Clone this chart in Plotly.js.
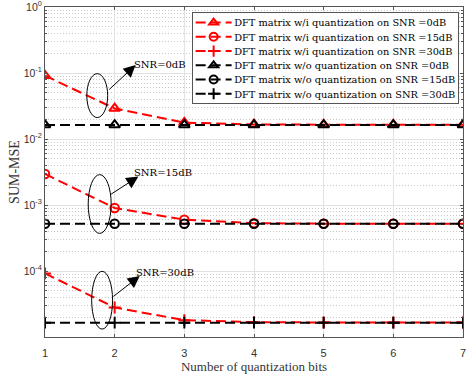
<!DOCTYPE html>
<html><head><meta charset="utf-8">
<script src="https://cdn.plot.ly/plotly-3.0.1.min.js"></script>
<style>html,body{margin:0;padding:0;background:#fff;overflow:hidden}
#wrap{width:472px;height:378px;overflow:hidden}
#chart{width:944px;height:756px;transform:scale(0.5);transform-origin:0 0}</style>
</head><body><div id="wrap"><div id="chart"></div></div>
<script>
const bits = [1,2,3,4,5,6,7];
const wiSNR0  = [0.091, 0.029, 0.0177, 0.0166, 0.0165, 0.0165, 0.0165];
const wiSNR15 = [0.00295, 0.00090, 0.000600, 0.000530, 0.000522, 0.000521, 0.000521];
const wiSNR30 = [9.2e-5, 2.8e-5, 1.8e-5, 1.68e-5, 1.66e-5, 1.66e-5, 1.66e-5];
const woSNR0  = [0.0163, 0.0163, 0.0163, 0.0163, 0.0163, 0.0163, 0.0163];
const woSNR15 = [0.000520, 0.000520, 0.000520, 0.000520, 0.000520, 0.000520, 0.000520];
const woSNR30 = [1.65e-5, 1.65e-5, 1.65e-5, 1.65e-5, 1.65e-5, 1.65e-5, 1.65e-5];
const names = [
 'DFT matrix w/i quantization on SNR =0dB',
 'DFT matrix w/i quantization on SNR =15dB',
 'DFT matrix w/i quantization on SNR =30dB',
 'DFT matrix w/o quantization on SNR =0dB',
 'DFT matrix w/o quantization on SNR =15dB',
 'DFT matrix w/o quantization on SNR =30dB'
];
const yTickVals = [1e-4, 1e-3, 1e-2, 1e-1, 1];
const yTickText = ['10<sup>-4</sup>','10<sup>-3</sup>','10<sup>-2</sup>','10<sup>-1</sup>','10<sup>0</sup>'];

const K = 2; // render at 2x, displayed at 0.5 scale
const series = [wiSNR0, wiSNR15, wiSNR30, woSNR0, woSNR15, woSNR30];
const symbols = ['triangle-up-open','circle-open','cross-thin-open','triangle-up-open','circle-open','cross-thin-open'];
const msize = {'triangle-up-open':9.5, 'circle-open':8.5, 'cross-thin-open':8.5};
const colors = ['#ff0000','#ff0000','#ff0000','#000000','#000000','#000000'];
const traces = series.map((ys,i)=>({
  x: bits, y: ys, name: names[i], type:'scatter', mode:'lines+markers',
  line:{color:colors[i], width:2*K, dash:(10*K)+'px,'+(5*K)+'px'},
  marker:{symbol:symbols[i], size:msize[symbols[i]]*K, color:colors[i], line:{color:colors[i], width:2*K}}
}));
const serif = 'DejaVu Serif, serif';
const serif2 = 'Liberation Serif, Times New Roman, serif';
const sans = 'Liberation Sans, Arial, sans-serif';
function ell(x0,x1,y0,y1){return {type:'circle', xref:'x', yref:'paper', x0:x0, x1:x1, y0:y0, y1:y1, line:{color:'#000', width:1*K}};}
function arrow(x,y,ax,ay){return {xref:'x', yref:'paper', x:x, y:y, ax:ax*K, ay:ay*K, text:'', showarrow:true, arrowhead:2, arrowsize:2.4, arrowwidth:1*K, arrowcolor:'#000'};}
function label(x,y,t){return {xref:'x', yref:'paper', x:x, y:y, text:t, showarrow:false, xanchor:'left', yanchor:'middle', font:{family:serif, size:10*K, color:'#000'}};}
const layout = {
  width:472*K, height:378*K,
  margin:{l:45*K, r:9*K, t:7*K, b:41*K},
  paper_bgcolor:'#fff', plot_bgcolor:'#fff',
  showlegend:true,
  legend:{x:0.352, y:0.985, xanchor:'left', yanchor:'top', bgcolor:'#fff', bordercolor:'#555', borderwidth:1*K,
    font:{family:serif, size:9.8*K, color:'#000'}, tracegroupgap:0, itemwidth:36*K},
  xaxis:{range:[1,7], tickvals:bits, ticks:'inside', ticklen:3*K, tickwidth:1*K, tickcolor:'#555', mirror:'ticks', showline:true, linecolor:'#555', linewidth:1*K,
    showgrid:true, gridcolor:'#e2e2e2', gridwidth:1*K, zeroline:false,
    ticklabelstandoff:6*K,
    tickfont:{family:sans, size:11*K, color:'#333'},
    title:{text:'Number of quantization bits', font:{family:serif2, size:13*K, color:'#333'}, standoff:2*K}},
  yaxis:{type:'log', range:[-5,0], tickvals:yTickVals, ticktext:yTickText, ticks:'inside', ticklen:3*K, tickwidth:1*K, tickcolor:'#555', mirror:'ticks',
    showline:true, linecolor:'#555', linewidth:1*K, showgrid:true, gridcolor:'#e2e2e2', gridwidth:1*K, zeroline:false,
    ticklabeloverflow:'allow',
    tickfont:{family:sans, size:10.5*K, color:'#333'},
    minor:{dtick:'D1', showgrid:true, gridcolor:'#c8c8c8', gridwidth:1*K, griddash:(1*K)+'px,'+(2*K)+'px', ticks:'inside', ticklen:2*K, tickwidth:1*K, tickcolor:'#555'},
    title:{text:'SUM-MSE', font:{family:serif2, size:14*K, color:'#333'}, standoff:0}},
  shapes:[
    ell(1.60,1.90,0.665,0.798),
    ell(1.62,1.95,0.314,0.492),
    ell(1.67,1.97,0.024,0.199)
  ],
  annotations:[
    arrow(2.30,0.824,-27,25),
    label(2.26,0.828,'SNR=0dB'),
    arrow(2.34,0.486,-28,18),
    label(2.26,0.50,'SNR=15dB'),
    arrow(2.36,0.185,-27,21),
    label(2.29,0.197,'SNR=30dB')
  ]
};
Plotly.newPlot('chart', traces, layout, {displayModeBar:false, staticPlot:true});
</script></body></html>
